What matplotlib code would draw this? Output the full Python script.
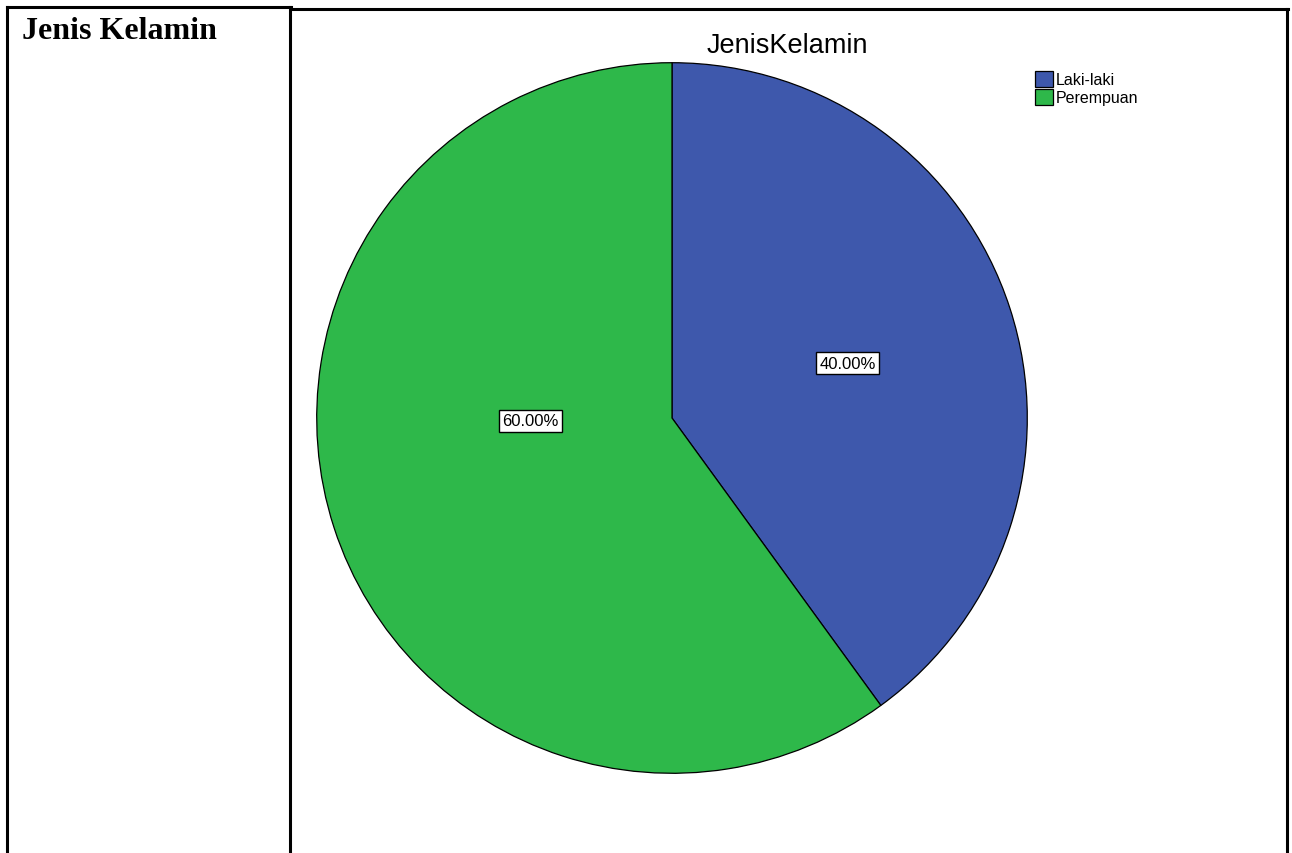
import matplotlib
matplotlib.use("Agg")
import matplotlib.pyplot as plt
from matplotlib.lines import Line2D

# -----------------------------------
# Data
# -----------------------------------

categories = ["Laki-laki", "Perempuan"]
percentages = [40.0, 60.0]
colors = ["#3E58AC", "#2EB84A"]
chart_title = "JenisKelamin"
row_label = "Jenis Kelamin"

W, H = 1292, 854
fig = plt.figure(figsize=(W / 100, H / 100), dpi=100)
fig.patch.set_facecolor("white")

# -----------------------------------
# Table frame (pixel positions -> figure coords)
# -----------------------------------

def px(x, y):
    return x / W, 1 - y / H

lw = 2.2
for (x0, y0), (x1, y1) in [
    ((7, 8), (291, 8)),
    ((291, 10), (1288, 10)),
    ((7, 8), (7, 854)),
    ((290, 8), (290, 854)),
    ((1287, 10), (1287, 854)),
]:
    a, b = px(x0, y0)
    c, d = px(x1, y1)
    fig.add_artist(Line2D([a, c], [b, d], color="black", lw=lw,
                          solid_capstyle="projecting"))

fig.text(*px(22, 39), row_label, family="Liberation Serif",
         weight="bold", fontsize=23, ha="left", va="baseline")

# -----------------------------------
# Pie chart
# -----------------------------------

cx, cy, r = 672, 419, 356
ax = fig.add_axes([(cx - r) / W, (H - cy - r) / H, 2 * r / W, 2 * r / H])

wedges, _ = ax.pie(
    percentages,
    colors=colors,
    startangle=90,
    counterclock=False,
    wedgeprops=dict(edgecolor="black", linewidth=0.9),
)
ax.set_xlim(-1.002, 1.002)
ax.set_ylim(-1.002, 1.002)
ax.set_aspect("equal")

# Percentage labels (positions relative to pie radius)
label_pos = [(0.494, 0.154), (-0.399, -0.008)]
for (lx, ly), p in zip(label_pos, percentages):
    ax.text(lx, ly, f"{p:.2f}%", ha="center", va="center",
            family="Liberation Sans", fontsize=12,
            bbox=dict(boxstyle="square,pad=0.2", facecolor="white",
                      edgecolor="black", linewidth=1.0))

fig.text(*px(787, 46), chart_title, family="Liberation Sans",
         fontsize=19.5, ha="center", va="center")

leg = fig.legend(
    wedges, categories,
    loc="upper left",
    bbox_to_anchor=px(1021, 58),
    frameon=False,
    prop=dict(family="Liberation Sans", size=11.5),
    handlelength=1.1,
    handleheight=1.1,
    handletextpad=0.2,
    labelspacing=0.12,
)

fig.savefig("out.png", dpi=100)
